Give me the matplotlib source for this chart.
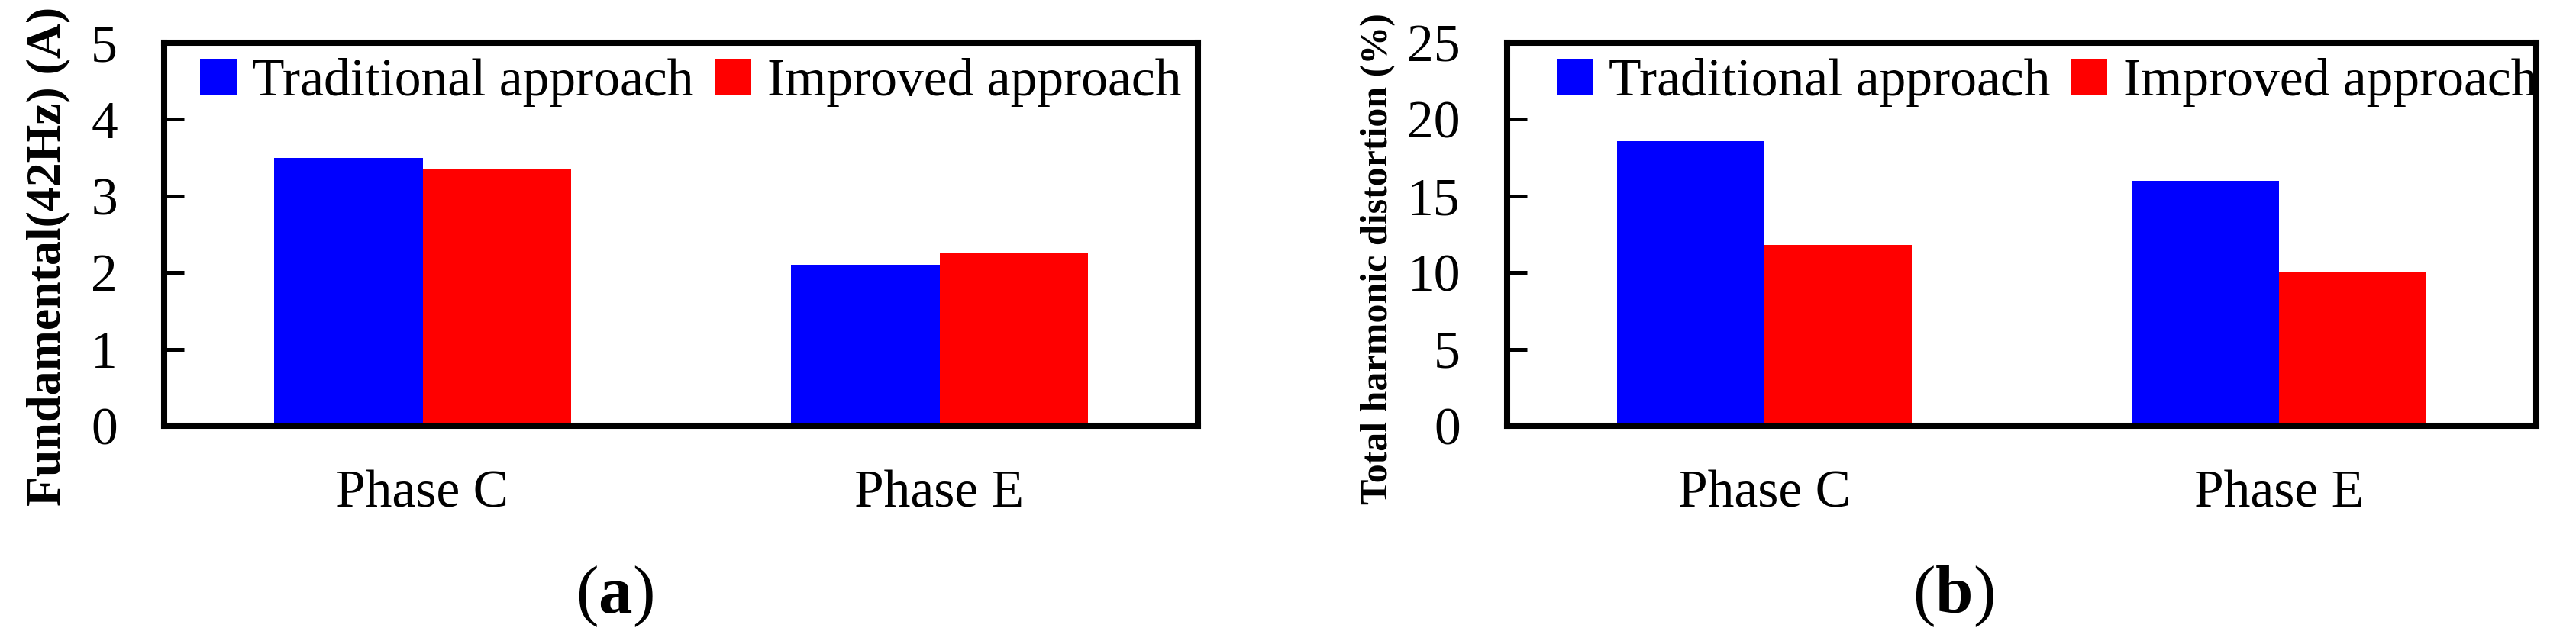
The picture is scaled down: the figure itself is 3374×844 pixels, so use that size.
import matplotlib
matplotlib.use("Agg")
import matplotlib.pyplot as plt
import numpy as np

# data
phases = ["Phase C", "Phase E"]
series = ["Traditional approach", "Improved approach"]
fundamental_trad = [3.50, 2.10]
fundamental_impr = [3.35, 2.25]
thd_trad = [18.6, 16.0]
thd_impr = [11.8, 10.0]

colors = ["#0000ff", "#ff0000"]

plt.rcParams['font.family'] = ['Liberation Serif', 'DejaVu Serif']
plt.rcParams['mathtext.fontset'] = 'custom'
plt.rcParams['mathtext.rm'] = 'Liberation Serif'
plt.rcParams['mathtext.bf'] = 'Liberation Serif:bold'

W, H = 3374, 844
fig = plt.figure(figsize=(W / 100, H / 100), dpi=100)


def px_box(left, right, top, bottom):
    return [left / W, 1 - bottom / H, (right - left) / W, (bottom - top) / H]


def draw_panel(ax, trad, impr, ymax, ystep, leg_x):
    x = np.arange(len(phases))
    w = 0.287
    b1 = ax.bar(x - w / 2, trad, w, color=colors[0], label=series[0], zorder=1)
    b2 = ax.bar(x + w / 2, impr, w, color=colors[1], label=series[1], zorder=1)
    ax.set_xlim(-0.5, 1.5)
    ax.set_ylim(0, ymax)
    ax.set_yticks(np.arange(0, ymax + 0.1, ystep))
    ax.set_xticks(x)
    ax.set_xticklabels(phases)
    for s in ax.spines.values():
        s.set_linewidth(5.8)
        s.set_zorder(3)
    ax.tick_params(axis='y', direction='in', length=18.5, width=3.6,
                   labelsize=50, pad=44)
    ax.tick_params(axis='x', length=0, labelsize=50, pad=42)
    ax.legend(handles=[b1, b2], loc='upper left', bbox_to_anchor=(leg_x, 0.96),
              ncol=2, frameon=False, fontsize=50, borderpad=0, borderaxespad=0,
              handlelength=0.68, handleheight=0.68, handletextpad=0.3,
              columnspacing=0.4)


ax1 = fig.add_axes(px_box(215, 1569, 56, 558))
draw_panel(ax1, fundamental_trad, fundamental_impr, 5, 1, 0.035)

ax2 = fig.add_axes(px_box(1974, 3322, 56, 558))
draw_panel(ax2, thd_trad, thd_impr, 25, 5, 0.048)

fig.text(63 / W, 1 - 336 / H, "Fundamental(42Hz) (A)", rotation=90,
         fontsize=46, fontweight='bold', ha='center', va='center')
fig.text(1805 / W, 1 - 339 / H, "Total harmonic distortion (%)", rotation=90,
         fontsize=36, fontweight='bold', ha='center', va='center')

fig.text(805 / W, 1 - 782 / H, r"($\mathbf{a}$)", fontsize=64,
         ha='center', va='center')
fig.text(2558 / W, 1 - 782 / H, r"($\mathbf{b}$)", fontsize=64,
         ha='center', va='center')

fig.savefig("out.png", dpi=100)
